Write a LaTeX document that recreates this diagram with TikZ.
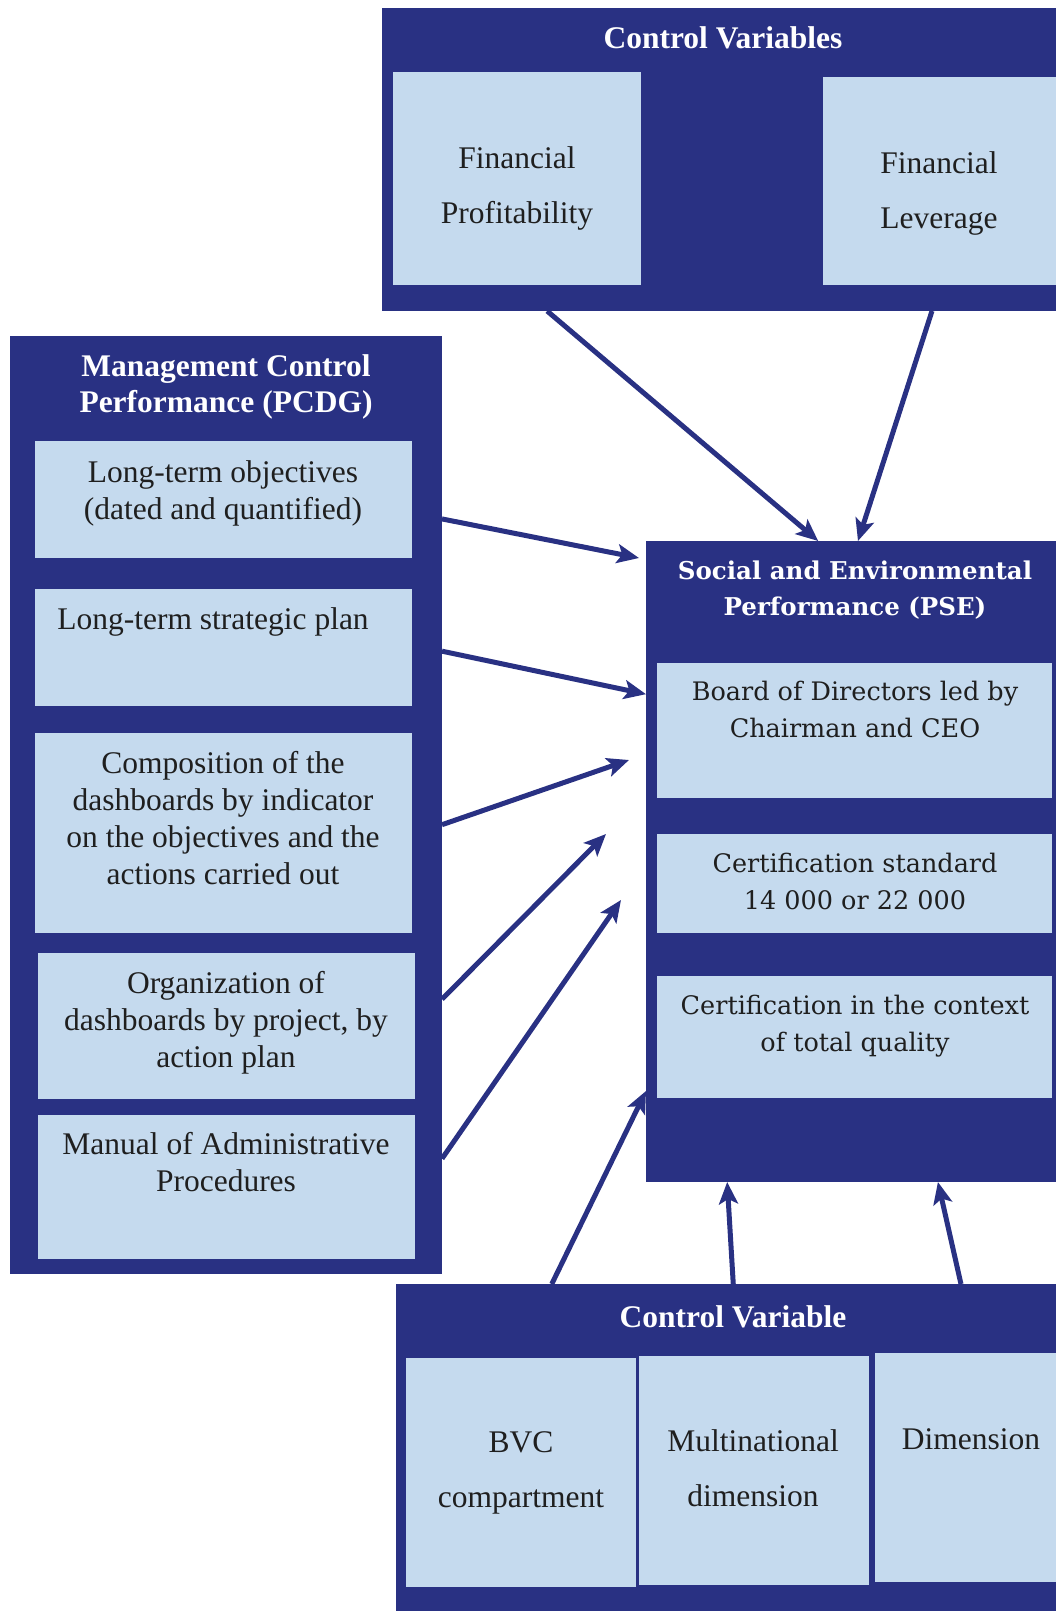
\documentclass[tikz,border=0pt]{standalone}
\usepackage{fontspec}
\setmainfont{Liberation Serif}
\newfontfamily\psefont{DejaVu Serif}
\usetikzlibrary{arrows.meta,calc}
\definecolor{navyblue}{RGB}{41, 49, 131}
\definecolor{paleblue}{RGB}{197, 218, 238}

\tikzset{
  outerbox/.style={fill=navyblue, inner sep=0pt, outer sep=0pt},
  innerbox/.style={fill=paleblue, inner sep=0pt, outer sep=0pt},
  headtxt/.style={text=white, font=\bfseries\fontsize{31.5}{36}\selectfont, align=center, inner sep=0pt},
  bodytxt/.style={text=black!88, font=\fontsize{31.5}{37}\selectfont, align=center, inner sep=0pt},
  widetxt/.style={bodytxt, font=\fontsize{31.5}{55}\selectfont},
  psehead/.style={headtxt, font=\psefont\bfseries\fontsize{24.5}{36}\selectfont},
  psetxt/.style={bodytxt, font=\psefont\fontsize{25.5}{37}\selectfont},
  link/.style={draw=navyblue, line width=5pt, -{Stealth[length=22pt,width=19pt,inset=5pt]}}
}

\begin{document}
\begin{tikzpicture}[x=1pt, y=-1pt]
            \useasboundingbox (0,0) rectangle (1056,1611);
            % control variables (top)
            \node[outerbox, minimum width=674pt, minimum height=303pt] (cvtop)    at (719.0, 159.5) {};
            \node[innerbox, minimum width=248pt, minimum height=213pt] (fpbox)    at (517.0, 178.5) {};
            \node[innerbox, minimum width=233pt, minimum height=208pt] (flbox)    at (939.5, 181.0) {};
            \node[headtxt] (cvtoptitle) at (723, 38)  {Control Variables};
            \node[widetxt] (fptxt)      at (517, 188) {Financial\\Profitability};
            \node[widetxt] (fltxt)      at (939, 193) {Financial\\Leverage};
            % management control performance
            \node[outerbox, minimum width=432pt, minimum height=938pt] (pcdg)     at (226.0, 805.0) {};
            \node[innerbox, minimum width=377pt, minimum height=117pt] (objbox)   at (223.5, 499.5) {};
            \node[innerbox, minimum width=377pt, minimum height=117pt] (planbox)  at (223.5, 647.5) {};
            \node[innerbox, minimum width=377pt, minimum height=200pt] (compbox)  at (223.5, 833.0) {};
            \node[innerbox, minimum width=377pt, minimum height=146pt] (orgbox)   at (226.5,1026.0) {};
            \node[innerbox, minimum width=377pt, minimum height=144pt] (manbox)   at (226.5,1187.0) {};
            \node[headtxt] (pcdgtitle) at (226, 387)  {Management Control\\Performance (PCDG)};
            \node[bodytxt] (objtxt)    at (223, 493)  {Long-term objectives\\(dated and quantified)};
            \node[bodytxt] (plantxt)   at (213, 622)  {Long-term strategic plan};
            \node[bodytxt] (comptxt)   at (223, 818)  {Composition of the\\dashboards by indicator\\on the objectives and the\\actions carried out};
            \node[bodytxt] (orgtxt)    at (226,1023)  {Organization of\\dashboards by project, by\\action plan};
            \node[bodytxt] (mantxt)    at (226,1162)  {Manual of Administrative\\Procedures};
            % social and environmental performance
            \node[outerbox, minimum width=410pt, minimum height=641pt] (pse)      at (851.0, 861.5) {};
            \node[innerbox, minimum width=395pt, minimum height=135pt] (boardbox) at (854.5, 730.5) {};
            \node[innerbox, minimum width=395pt, minimum height=99pt]  (certbox)  at (854.5, 883.5) {};
            \node[innerbox, minimum width=395pt, minimum height=122pt] (qualbox)  at (854.5,1037.0) {};
            \node[psehead] (psetitle)  at (855, 590)  {Social and Environmental\\Performance (PSE)};
            \node[psetxt]  (boardtxt)  at (855, 709)  {Board of Directors led by\\Chairman and CEO};
            \node[psetxt]  (certtxt)   at (855, 881)  {Certification standard\\14 000 or 22 000};
            \node[psetxt]  (qualtxt)   at (855,1026)  {Certification in the context\\of total quality};
            % control variable (bottom)
            \node[outerbox, minimum width=660pt, minimum height=327pt] (cvbot)    at (726.0,1447.5) {};
            \node[innerbox, minimum width=230pt, minimum height=229pt] (bvcbox)   at (521.0,1472.5) {};
            \node[innerbox, minimum width=230pt, minimum height=229pt] (multibox) at (754.0,1470.5) {};
            \node[innerbox, minimum width=181pt, minimum height=229pt] (dimbox)   at (965.5,1467.5) {};
            \node[headtxt] (cvbottitle) at (733,1317) {Control Variable};
            \node[widetxt] (bvctxt)     at (521,1473) {BVC\\compartment};
            \node[widetxt] (multitxt)   at (753,1468) {Multinational\\dimension};
            \node[widetxt] (dimtxt)     at (971,1439) {Dimension};
            % free arrow tips
            \coordinate (tipobj)  at (639, 558);
            \coordinate (tipcomp) at (629, 760);
            \coordinate (tiporg)  at (606, 834);
            \coordinate (tipman)  at (621, 900);
            % links
            \draw[link] ($(cvtop.south west)!0.245!(cvtop.south east)$) -- ($(pse.north west)!0.42!(pse.north east)$);
            \draw[link] ($(cvtop.south west)!0.816!(cvtop.south east)$) -- ($(pse.north west)!0.517!(pse.north east)$);
            \draw[link] ($(pcdg.north east)!0.195!(pcdg.south east)$) -- (tipobj);
            \draw[link] ($(pcdg.north east)!0.336!(pcdg.south east)$) -- ($(pse.north west)!0.239!(pse.south west)$);
            \draw[link] ($(pcdg.north east)!0.521!(pcdg.south east)$) -- (tipcomp);
            \draw[link] ($(pcdg.north east)!0.707!(pcdg.south east)$) -- (tiporg);
            \draw[link] ($(pcdg.north east)!0.877!(pcdg.south east)$) -- (tipman);
            \draw[link] ($(cvbot.north west)!0.236!(cvbot.north east)$) -- ($(pse.north west)!0.858!(pse.south west)$);
            \draw[link] ($(cvbot.north west)!0.511!(cvbot.north east)$) -- ($(pse.south west)!0.198!(pse.south east)$);
            \draw[link] ($(cvbot.north west)!0.856!(cvbot.north east)$) -- ($(pse.south west)!0.712!(pse.south east)$);
            \end{tikzpicture}
\end{document}
